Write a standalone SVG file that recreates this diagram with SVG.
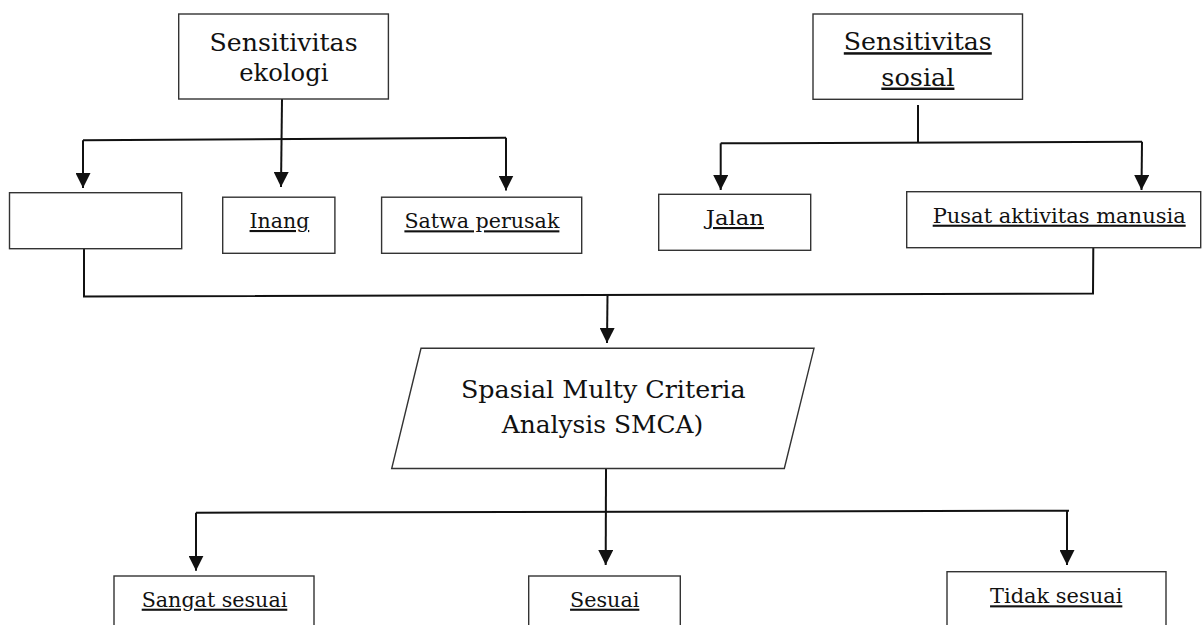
<svg xmlns="http://www.w3.org/2000/svg" width="1202" height="625" viewBox="0 0 1202 625">
<style>
  .box{fill:#fff;stroke:#333;stroke-width:1.4}
  .lbl{font-family:"DejaVu Serif","Liberation Serif",serif;fill:#111;text-anchor:middle}
  .big{font-size:25px}
  .sm{font-size:21px}
  .u{text-decoration:underline;text-decoration-skip-ink:none;text-decoration-thickness:1.6px}
  .ln{fill:none;stroke:#111;stroke-width:2}
  .ar{fill:none;stroke:#111;stroke-width:2;marker-end:url(#ah)}
</style>
<defs>
  <marker id="ah" markerUnits="userSpaceOnUse" viewBox="0 0 15 15" refX="15" refY="7.5" markerWidth="15" markerHeight="15" orient="auto">
    <path d="M0,0 L15,7.5 L0,15 z" fill="#111"/>
  </marker>
</defs>
<rect width="1202" height="625" fill="#fff"/>

<g id="connectors">
  <path class="ar" d="M282,99 L281,187"/>
  <path class="ln" d="M83,140.3 L506,137.8"/>
  <path class="ar" d="M83,140.3 L83,188"/>
  <path class="ar" d="M506,137.8 L506,190.5"/>

  <path class="ln" d="M918,105 L918,143"/>
  <path class="ln" d="M720.7,143.3 L1142,141.7"/>
  <path class="ar" d="M720.7,143.3 L720.7,190"/>
  <path class="ar" d="M1142,141.7 L1141.5,190"/>

  <path class="ln" d="M84,249 L84,296.5 L1093,293.5 L1093.3,248"/>
  <path class="ar" d="M607.5,295 L607,343"/>

  <path class="ln" d="M196,512.7 L1069,510.7"/>
  <path class="ar" d="M606,469 L605.7,565"/>
  <path class="ar" d="M196,512.7 L196,570.7"/>
  <path class="ar" d="M1067,510.7 L1067,565"/>
</g>

<g id="node-ekologi">
  <rect class="box" x="178.7" y="14" width="209.7" height="85"/>
  <text class="lbl big" x="283.6" y="50.7" textLength="148" lengthAdjust="spacingAndGlyphs">Sensitivitas</text>
  <text class="lbl big" x="283.8" y="81" textLength="89.2" lengthAdjust="spacingAndGlyphs">ekologi</text>
</g>

<g id="node-sosial">
  <rect class="box" x="813" y="14" width="209.5" height="85.3"/>
  <text class="lbl big u" x="917.8" y="50.2" textLength="148" lengthAdjust="spacingAndGlyphs">Sensitivitas</text>
  <text class="lbl big u" x="917.9" y="85.5" textLength="73.1" lengthAdjust="spacingAndGlyphs">sosial</text>
</g>

<g id="node-empty">
  <rect class="box" x="9.5" y="192.7" width="172.2" height="56"/>
</g>

<g id="node-inang">
  <rect class="box" x="222.7" y="197.2" width="112.2" height="56.1"/>
  <text class="lbl sm u" x="279.4" y="228" textLength="59.7" lengthAdjust="spacingAndGlyphs">Inang</text>
</g>

<g id="node-satwa">
  <rect class="box" x="381.6" y="197.2" width="200.1" height="56.1"/>
  <text class="lbl sm u" x="481.9" y="228.3" textLength="155" lengthAdjust="spacingAndGlyphs">Satwa perusak</text>
</g>

<g id="node-jalan">
  <rect class="box" x="658.7" y="194.3" width="152" height="56"/>
  <text class="lbl sm u" x="734.9" y="225" textLength="58.3" lengthAdjust="spacingAndGlyphs">Jalan</text>
</g>

<g id="node-pusat">
  <rect class="box" x="906.7" y="191.7" width="294" height="56"/>
  <text class="lbl sm u" x="1059.2" y="222.7" textLength="253" lengthAdjust="spacingAndGlyphs">Pusat aktivitas manusia</text>
</g>

<g id="node-smca">
  <polygon class="box" points="421,348.3 814,348.3 784.3,468.5 391.7,468.5"/>
  <text class="lbl big" x="603.3" y="398.3" textLength="284.7" lengthAdjust="spacingAndGlyphs">Spasial Multy Criteria</text>
  <text class="lbl big" x="602.5" y="433.3" textLength="201.6" lengthAdjust="spacingAndGlyphs">Analysis SMCA)</text>
</g>

<g id="node-sangat">
  <rect class="box" x="114" y="576" width="200" height="70"/>
  <text class="lbl sm u" x="214.5" y="606.7" textLength="145.6" lengthAdjust="spacingAndGlyphs">Sangat sesuai</text>
</g>

<g id="node-sesuai">
  <rect class="box" x="528.7" y="576" width="151.6" height="70"/>
  <text class="lbl sm u" x="604.7" y="606.7" textLength="69.3" lengthAdjust="spacingAndGlyphs">Sesuai</text>
</g>

<g id="node-tidak">
  <rect class="box" x="947" y="571.7" width="219" height="70"/>
  <text class="lbl sm u" x="1056.2" y="603.3" textLength="132.3" lengthAdjust="spacingAndGlyphs">Tidak sesuai</text>
</g>
</svg>
